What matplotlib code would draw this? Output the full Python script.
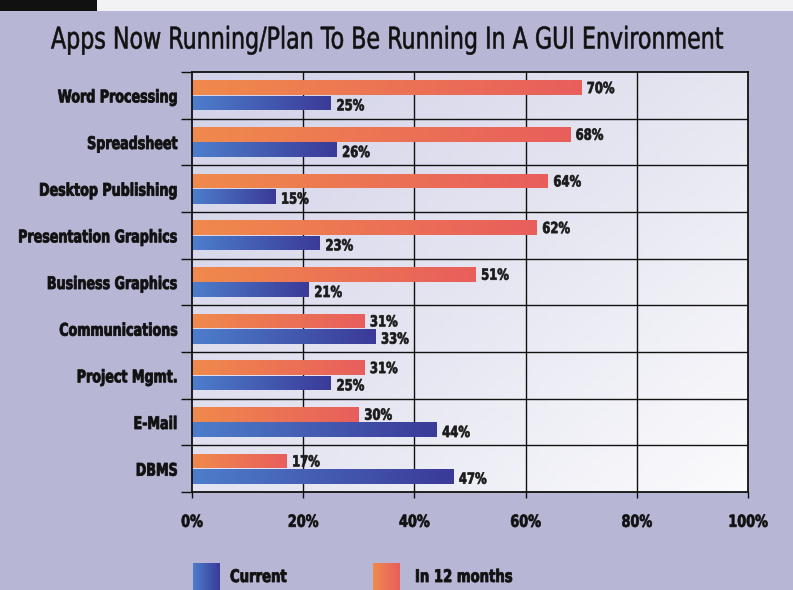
import numpy as np
import matplotlib
matplotlib.use("Agg")
import matplotlib.pyplot as plt
from matplotlib.colors import LinearSegmentedColormap, to_rgb
from matplotlib.patches import Rectangle
from matplotlib.patheffects import AbstractPathEffect
from matplotlib.transforms import Affine2D, ScaledTranslation

# Datos del gráfico
categorias = ['Word Processing', 'Spreadsheet', 'Desktop Publishing',
              'Presentation Graphics', 'Business Graphics', 'Communications',
              'Project Mgmt.', 'E-Mail', 'DBMS']
en_12_meses = [70, 68, 64, 62, 51, 31, 31, 30, 17]
actual = [25, 26, 15, 23, 21, 33, 25, 44, 47]
ticks_x = [0, 20, 40, 60, 80, 100]


class Estrechar(AbstractPathEffect):
    """Comprime el texto en horizontal (simula una fuente condensada) y lo engrosa."""
    def __init__(self, sx=0.75, ancla='center', grosor=0.0):
        super().__init__()
        self.sx = sx
        self.ancla = ancla
        self.grosor = grosor

    def draw_path(self, renderer, gc, tpath, affine, rgbFace=None):
        xs = affine.transform(tpath.vertices)[:, 0]
        if self.ancla == 'left':
            px = xs.min()
        elif self.ancla == 'right':
            px = xs.max()
        else:
            px = 0.5 * (xs.min() + xs.max())
        t = affine + Affine2D().translate(-px, 0).scale(self.sx, 1).translate(px, 0)
        if self.grosor > 0:
            gc0 = renderer.new_gc()
            gc0.copy_properties(gc)
            gc0.set_linewidth(self.grosor)
            gc0.set_foreground(rgbFace)
            renderer.draw_path(gc0, tpath, t, rgbFace)
            gc0.restore()
        else:
            renderer.draw_path(gc, tpath, t, rgbFace)


plt.rcParams['font.family'] = ['DejaVu Sans']

cmap_naranja = LinearSegmentedColormap.from_list('nar', ['#f08a4c', '#e85e5c'])
cmap_azul = LinearSegmentedColormap.from_list('azu', ['#4d7ecc', '#3b3a98'])
grad = np.linspace(0, 1, 256).reshape(1, -1)

# fondo del área: lavanda arriba a la izquierda, casi blanco abajo a la derecha
gx, gy = np.meshgrid(np.linspace(0, 1, 64), np.linspace(0, 1, 64))
c_si, c_sd = np.array(to_rgb('#d2d2e9')), np.array(to_rgb('#e6e6f1'))
c_ii, c_id = np.array(to_rgb('#e2e2f0')), np.array(to_rgb('#fbfbfd'))
fondo = ((1 - gx)[..., None] * ((1 - gy)[..., None] * c_si + gy[..., None] * c_ii)
         + gx[..., None] * ((1 - gy)[..., None] * c_sd + gy[..., None] * c_id))

fig = plt.figure(figsize=(7.93, 5.90), dpi=100, facecolor='#b7b6d5')
ax = fig.add_axes([192 / 793, 1 - 492 / 590, 556 / 793, 420 / 590])

# franja superior del escaneo
fig.patches.append(Rectangle((0, 1 - 11 / 590), 1, 11 / 590, transform=fig.transFigure,
                             facecolor='#f2f2f4', edgecolor='none', zorder=0))
fig.patches.append(Rectangle((0, 1 - 11 / 590), 97 / 793, 11 / 590, transform=fig.transFigure,
                             facecolor='#111111', edgecolor='none', zorder=1))

y = np.arange(len(categorias))
alto = 0.31
off = 0.165

ax.imshow(fondo, extent=[0, 1, 0, 1], transform=ax.transAxes, aspect='auto',
          origin='upper', zorder=0)

barras_n = ax.barh(y - off, en_12_meses, height=alto, color='none', zorder=2)
barras_a = ax.barh(y + off, actual, height=alto, color='none', zorder=2)
for barras, cm in [(barras_n, cmap_naranja), (barras_a, cmap_azul)]:
    for b in barras:
        x0, y0 = b.get_x(), b.get_y()
        w, h = b.get_width(), b.get_height()
        im = ax.imshow(grad, extent=[x0, x0 + w, y0 + h, y0], cmap=cm,
                       aspect='auto', zorder=2)
        im.set_clip_path(b)

ax.set_xlim(0, 100)
ax.set_ylim(len(categorias) - 0.5, -0.5)

pe_val = [Estrechar(0.76, 'left', 0.5)]
for i in range(len(categorias)):
    ax.text(en_12_meses[i] + 1.0, i - off + 0.02, f'{en_12_meses[i]}%', va='center',
            ha='left', fontsize=11, fontweight='bold', color='#1a1a1a', zorder=3,
            path_effects=pe_val)
    ax.text(actual[i] + 1.0, i + off + 0.06, f'{actual[i]}%', va='center',
            ha='left', fontsize=11, fontweight='bold', color='#1a1a1a', zorder=3,
            path_effects=pe_val)

# rejilla
for v in ticks_x[1:-1]:
    ax.axvline(v, color='#111111', lw=1.0, zorder=1)
for s in np.arange(0.5, len(categorias) - 0.5, 1):
    ax.axhline(s, color='#111111', lw=1.0, zorder=1)
for sp in ax.spines.values():
    sp.set_color('#111111')
    sp.set_linewidth(1.3)

ax.set_yticks(y)
etq_y = ax.set_yticklabels(categorias, fontsize=12.5, fontweight='bold', color='#111111')
for t in etq_y:
    t.set_path_effects([Estrechar(0.73, 'right', 0.6)])
ax.set_yticks(np.arange(-0.5, len(categorias), 1), minor=True)
ax.tick_params(axis='y', which='major', length=0, pad=10)
ax.tick_params(axis='y', which='minor', length=8, width=1.0, color='#111111', direction='out')

ax.set_xticks(ticks_x)
etq_x = ax.set_xticklabels([f'{t}%' for t in ticks_x], fontsize=12, fontweight='bold',
                           color='#111111')
desplaza = ScaledTranslation(5 / 72, 0, fig.dpi_scale_trans)
for t in etq_x:
    t.set_path_effects([Estrechar(0.77, 'center', 0.5)])
    t.set_transform(t.get_transform() + desplaza)
ax.tick_params(axis='x', length=4, width=1.0, color='#111111', direction='out', pad=11)

titulo = fig.text(387 / 793, 1 - 40 / 590,
                  'Apps Now Running/Plan To Be Running In A GUI Environment',
                  ha='center', va='center', fontsize=21.5, color='#111111')
fig.canvas.draw()
ancho = titulo.get_window_extent().width
titulo.set_path_effects([Estrechar(672 / ancho, 'center', 0.4)])

# leyenda
for xpix, cm, txt, xt in [(193, cmap_azul, 'Current', 230), (373, cmap_naranja, 'In 12 months', 415)]:
    lax = fig.add_axes([xpix / 793, 0, 27 / 793, 27 / 590])
    lax.imshow(grad, cmap=cm, aspect='auto')
    lax.axis('off')
    fig.text(xt / 793, 1 - 577 / 590, txt, ha='left', va='center', fontsize=12.5,
             fontweight='bold', color='#111111', path_effects=[Estrechar(0.76, 'left', 0.6)])

fig.savefig('out.png', dpi=100, facecolor=fig.get_facecolor())
